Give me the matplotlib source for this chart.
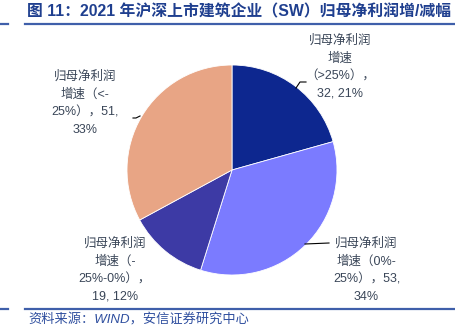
import matplotlib.pyplot as plt
from matplotlib.lines import Line2D

plt.rcParams['font.family'] = ['Liberation Sans', 'Noto Sans CJK SC', 'DejaVu Sans']

# 归母净利润增/减幅分档，公司数量
categories = ['>25%', '0%-25%', '-25%-0%', '<-25%']
counts = [32, 53, 19, 51]
colors = ['#0D278F', '#7B7BFF', '#3D3AA5', '#E8A585']

title = '图 11：2021 年沪深上市建筑企业（SW）归母净利润增/减幅'
source = '资料来源：WIND，安信证券研究中心'

total = sum(counts)
pcts = [round(c / total * 100) for c in counts]

# 标签换行方式
label_fmt = [
    '归母净利润\n增速\n（{cat}），\n{n}, {p}%',
    '归母净利润\n增速（{a}\n{b}），{n},\n{p}%',
    '归母净利润\n增速（{a}\n{b}），\n{n}, {p}%',
    '归母净利润\n增速（{a}\n{b}），{n},\n{p}%',
]
splits = [None, ('0%-', '25%'), ('-', '25%-0%'), ('<-', '25%')]
labels = []
for i, fmt in enumerate(label_fmt):
    a, b = splits[i] if splits[i] else ('', '')
    labels.append(fmt.format(cat=categories[i], a=a, b=b, n=counts[i], p=pcts[i]))

W, H = 456, 333
fig = plt.figure(figsize=(W / 100, H / 100), dpi=100)
ax = fig.add_axes([0, 0, 1, 1])

cx, cy, r = 232, H - 170, 105
ax.pie(counts, colors=colors, startangle=90, counterclock=False,
       center=(cx, cy), radius=r, frame=True,
       wedgeprops=dict(linewidth=0.6, edgecolor='white'))
ax.set_xlim(0, W)
ax.set_ylim(0, H)
ax.set_aspect('equal')
ax.axis('off')

txt_color = '#3A4658'
# 标签位置（像素）与引线
label_pos = [(340, 67, 'center'), (333, 270, 'left'), (115, 270, 'center'), (85, 103, 'center')]
leaders = [
    [(296, 88), (300, 82), (306, 82)],
    [(305, 244), (329, 243)],
    None,
    [(140, 116), (136, 118), (133, 118)],
]
for lab, (x, y, ha), ld in zip(labels, label_pos, leaders):
    ax.text(x, H - y, lab, ha=ha, va='center',
            fontsize=9, color=txt_color, linespacing=1.6, multialignment='center')
    if ld:
        xs = [p[0] for p in ld]
        ys = [H - p[1] for p in ld]
        ax.add_line(Line2D(xs, ys, color='black', lw=0.8))

line_c = '#3F5FAA'
for y in (24, 309):
    ax.add_line(Line2D([0, 8], [H - y, H - y], color=line_c, lw=1.6))
    ax.add_line(Line2D([25, W], [H - y, H - y], color=line_c, lw=1.6))

ax.text(27, H - 12, title, fontsize=11.4, fontweight='bold', color='#1F3F8F',
        ha='left', va='center')
ax.text(28, H - 320, source, fontsize=9.5, style='italic', color='#2F4F9F',
        ha='left', va='center')

fig.savefig('out.png', dpi=100)
